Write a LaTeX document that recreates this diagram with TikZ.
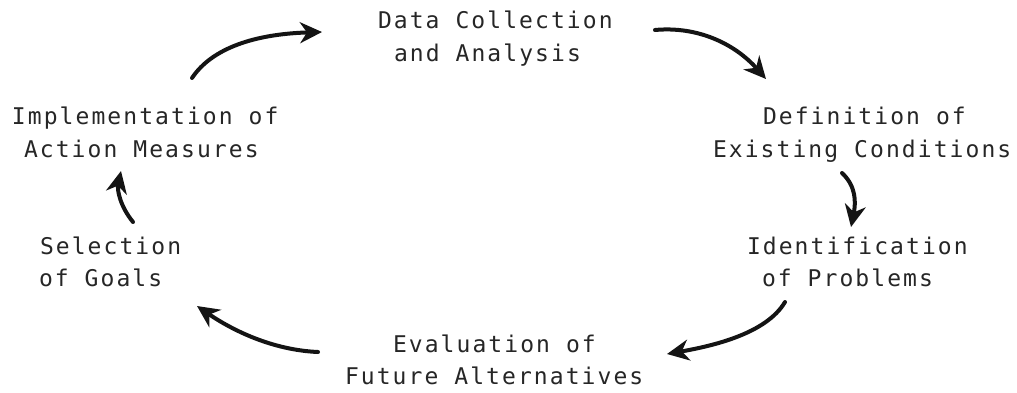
\documentclass[tikz,border=0pt]{standalone}
\usepackage{fontspec}
\setmonofont[LetterSpace=9]{DejaVu Sans Mono}
\usetikzlibrary{arrows.meta}
\tikzset{
  lbl/.style={anchor=base west, inner sep=0pt, outer sep=0pt, font=\ttfamily\fontsize{23}{32}\selectfont, text=black!85},
  flow/.style={line width=4pt, line cap=round, black!92, -{Stealth[length=22pt,width=21pt,inset=7pt]}}
}
\begin{document}
\begin{tikzpicture}[x=1pt,y=-1pt]
\fill[white] (0,0) rectangle (1017,392);
\useasboundingbox (0,0) rectangle (1017,392);
% labels
\node[lbl] (d1) at (378,28) {Data Collection};
\node[lbl] (d2) at (394,61) {and Analysis};
\node[lbl] (e1) at (763,124) {Definition of};
\node[lbl] (e2) at (713,157) {Existing Conditions};
\node[lbl] (p1) at (747,254) {Identification};
\node[lbl] (p2) at (762,286) {of Problems};
\node[lbl] (v1) at (393,352) {Evaluation of};
\node[lbl] (v2) at (345,384) {Future Alternatives};
\node[lbl] (g1) at (40,254) {Selection};
\node[lbl] (g2) at (39,286) {of Goals};
\node[lbl] (m1) at (12,124) {Implementation of};
\node[lbl] (m2) at (24,157) {Action Measures};
% arrow ends
\coordinate (a1s) at (192,78);  \coordinate (a1e) at (322,32);
\coordinate (a2s) at (655,30);  \coordinate (a2e) at (766,79);
\coordinate (a3s) at (842,173); \coordinate (a3e) at (851,227);
\coordinate (a4s) at (785,302); \coordinate (a4e) at (667,354);
\coordinate (a5s) at (318,352); \coordinate (a5e) at (197,306);
\coordinate (a6s) at (133,222); \coordinate (a6e) at (121,171);
% arrows
\draw[flow] (a1s) .. controls (212,48) and (255,34) .. (a1e);
\draw[flow] (a2s) .. controls (698,26) and (735,44) .. (a2e);
\draw[flow] (a3s) .. controls (856,186) and (856,202) .. (a3e);
\draw[flow] (a4s) .. controls (766,334) and (712,346) .. (a4e);
\draw[flow] (a5s) .. controls (272,350) and (232,330) .. (a5e);
\draw[flow] (a6s) .. controls (120,206) and (117,190) .. (a6e);
\end{tikzpicture}
\end{document}
